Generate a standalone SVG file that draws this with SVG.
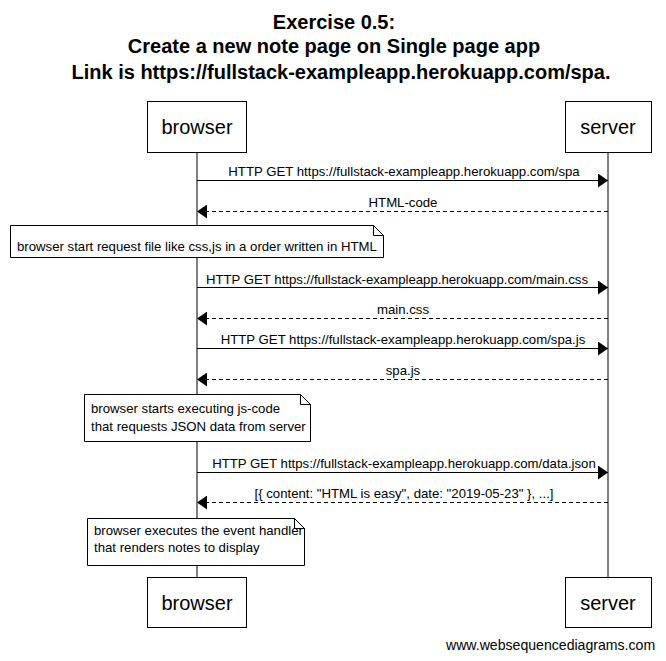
<svg xmlns="http://www.w3.org/2000/svg" width="666" height="661" viewBox="0 0 666 661">
<defs>
<style>
text{font-family:"Liberation Sans",Arial,sans-serif;fill:#000}
.title{font-size:20px;font-weight:bold;text-anchor:middle}
.actor{font-size:20px;text-anchor:middle}
.lbl{font-size:13.2px;text-anchor:middle}
.note{font-size:13.2px}
.box{fill:#fff;stroke:#000;stroke-width:1}
.life{stroke:#000;stroke-width:1}
.msg{stroke:#000;stroke-width:1;fill:none}
.ret{stroke:#000;stroke-width:1;fill:none;stroke-dasharray:4,3}
.fold{fill:none;stroke:#000;stroke-width:1}
</style>
<marker id="ah" markerWidth="10" markerHeight="14" refX="10" refY="7" orient="auto" markerUnits="userSpaceOnUse">
<path d="M0,0 L10,7 L0,14 Z" fill="#000"/>
</marker>
</defs>
<rect width="666" height="661" fill="#fff"/>
<g id="title">
<text class="title" x="334" y="29">Exercise 0.5:</text>
<text class="title" x="334" y="53">Create a new note page on Single page app</text>
<text class="title" x="341" y="79">Link is https://fullstack-exampleapp.herokuapp.com/spa.</text>
</g>
<g id="lifelines">
<line class="life" x1="197" y1="152" x2="197" y2="577"/>
<line class="life" x1="608" y1="152" x2="608" y2="577"/>
</g>
<g id="browser">
<rect class="box" x="147.5" y="101.5" width="99" height="51"/>
<text class="actor" x="197" y="134">browser</text>
<rect class="box" x="147.5" y="577.5" width="99" height="50"/>
<text class="actor" x="197" y="610">browser</text>
</g>
<g id="server">
<rect class="box" x="565.5" y="101.5" width="86" height="51"/>
<text class="actor" x="608" y="134">server</text>
<rect class="box" x="565.5" y="577.5" width="86" height="50"/>
<text class="actor" x="608" y="610">server</text>
</g>
<g id="connectors">
<line class="msg" x1="197" y1="180.5" x2="608" y2="180.5" marker-end="url(#ah)"/>
<text class="lbl" x="404" y="176">HTTP GET https://fullstack-exampleapp.herokuapp.com/spa</text>
<line class="ret" x1="608" y1="211.5" x2="197" y2="211.5" marker-end="url(#ah)"/>
<text class="lbl" x="403" y="207">HTML-code</text>
<line class="msg" x1="197" y1="287.5" x2="608" y2="287.5" marker-end="url(#ah)"/>
<text class="lbl" x="397" y="284">HTTP GET https://fullstack-exampleapp.herokuapp.com/main.css</text>
<line class="ret" x1="608" y1="318.5" x2="197" y2="318.5" marker-end="url(#ah)"/>
<text class="lbl" x="403" y="314">main.css</text>
<line class="msg" x1="197" y1="348.5" x2="608" y2="348.5" marker-end="url(#ah)"/>
<text class="lbl" x="403" y="344">HTTP GET https://fullstack-exampleapp.herokuapp.com/spa.js</text>
<line class="ret" x1="608" y1="379.5" x2="197" y2="379.5" marker-end="url(#ah)"/>
<text class="lbl" x="403" y="375">spa.js</text>
<line class="msg" x1="197" y1="472.5" x2="608" y2="472.5" marker-end="url(#ah)"/>
<text class="lbl" x="404" y="468">HTTP GET https://fullstack-exampleapp.herokuapp.com/data.json</text>
<line class="ret" x1="608" y1="502.5" x2="197" y2="502.5" marker-end="url(#ah)"/>
<text class="lbl" x="404" y="498">[{ content: "HTML is easy", date: "2019-05-23" }, ...]</text>
</g>
<g id="note1">
<path class="box" d="M10.5,225.5 H373.5 L383.5,235.5 V257.5 H10.5 Z"/>
<path class="fold" d="M373.5,225.5 V235.5 H383.5"/>
<text class="note" x="17" y="251">browser start request file like css,js in a order written in HTML</text>
</g>
<g id="note2">
<path class="box" d="M84.5,394.5 H300.5 L310.5,404.5 V441.5 H84.5 Z"/>
<path class="fold" d="M300.5,394.5 V404.5 H310.5"/>
<text class="note" x="91" y="413">browser starts executing js-code</text>
<text class="note" x="91" y="431">that requests JSON data from server</text>
</g>
<g id="note3">
<path class="box" d="M87.5,518.5 H294.5 L304.5,528.5 V565.5 H87.5 Z"/>
<path class="fold" d="M294.5,518.5 V528.5 H304.5"/>
<text class="note" x="94" y="535">browser executes the event handler</text>
<text class="note" x="94" y="552">that renders notes to display</text>
</g>
<text id="footer" x="446" y="650" style="font-size:14.1px">www.websequencediagrams.com</text>
</svg>
